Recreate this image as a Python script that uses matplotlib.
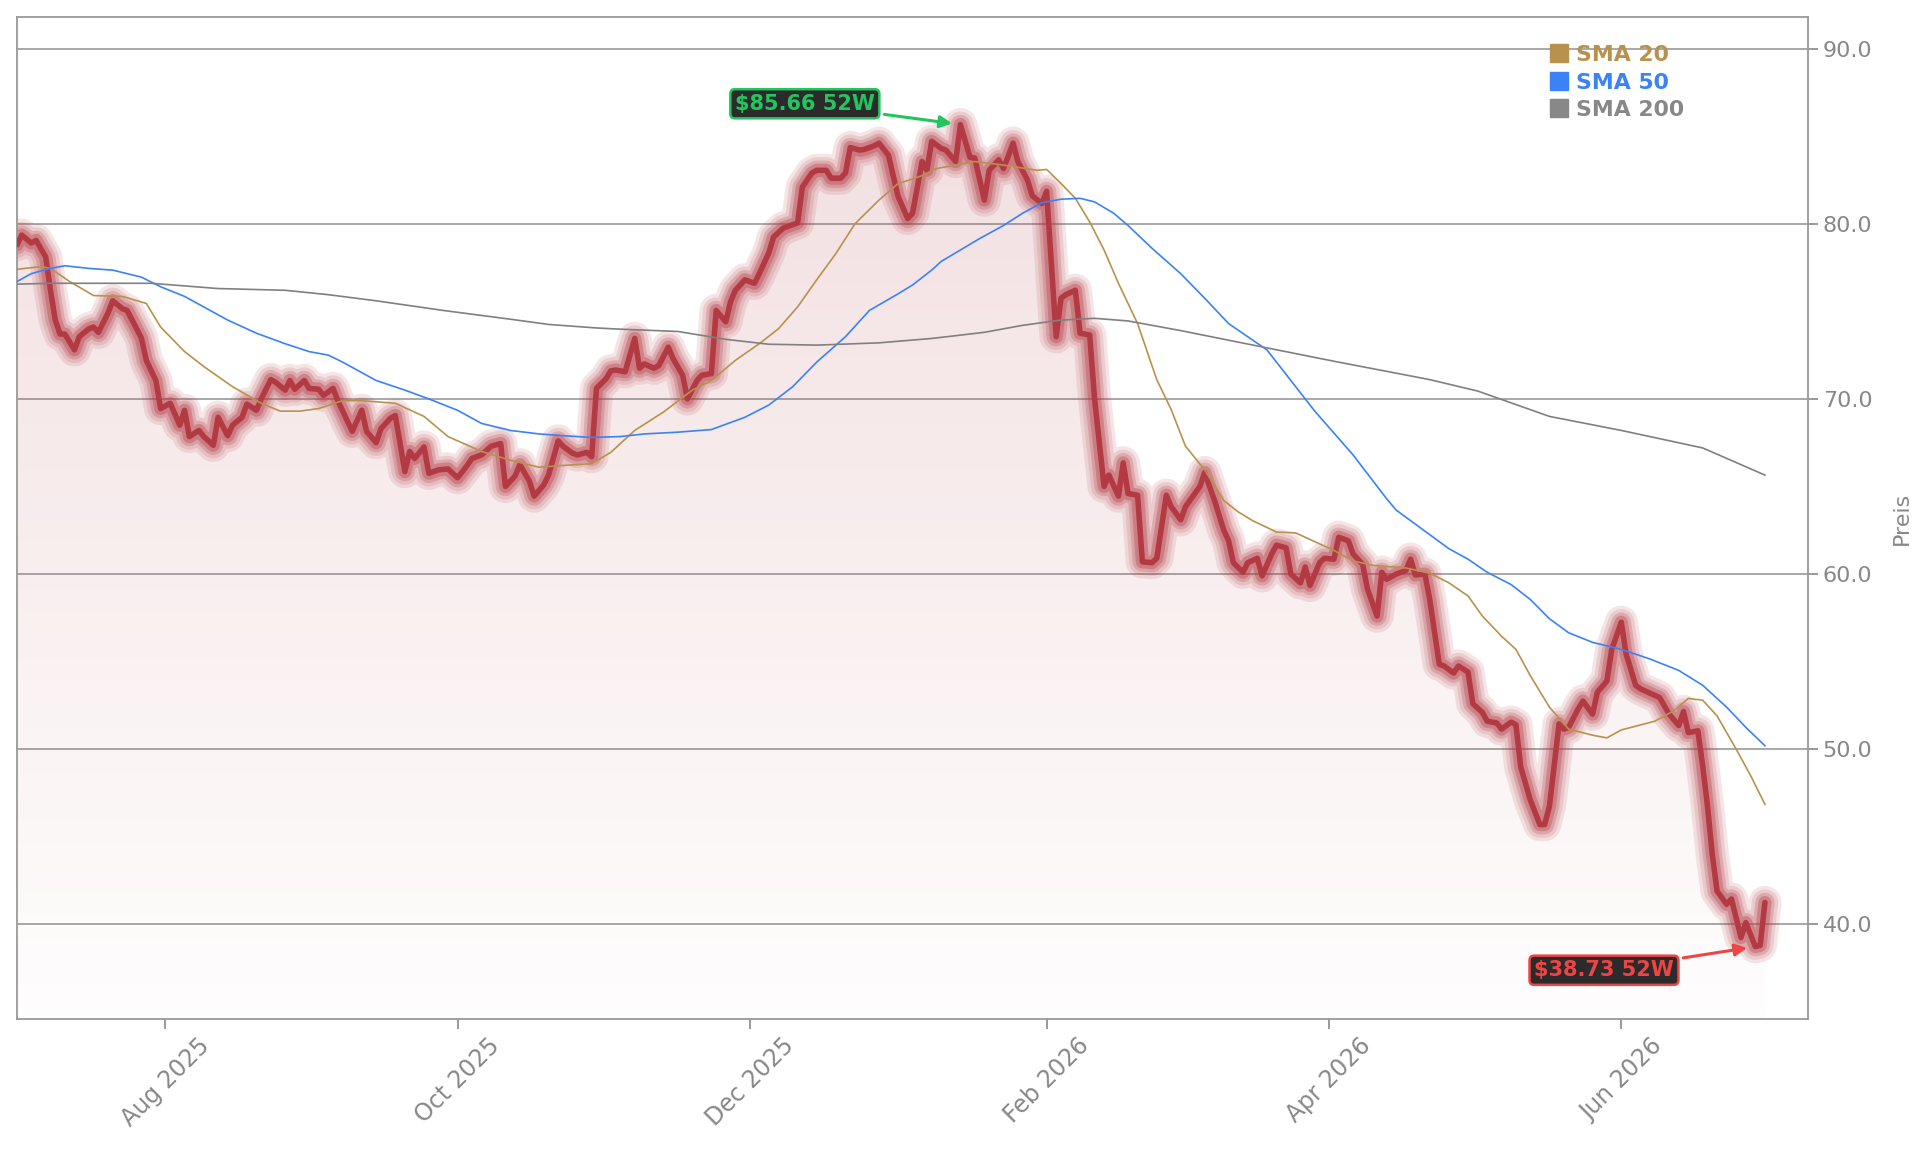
import numpy as np
import pandas as pd
import matplotlib
matplotlib.use("Agg")
import matplotlib.pyplot as plt
import matplotlib.dates as mdates
import matplotlib.colors as mcolors
from matplotlib.patches import Polygon
from matplotlib.lines import Line2D
from matplotlib.ticker import FormatStrFormatter

# --- data ----------------------------------------------------------------
start = pd.Timestamp("2025-07-01")

price_days = [
    0, 1, 3, 4, 6, 7, 8, 9, 10, 12, 13, 15, 16, 17, 19, 20, 22, 23, 25, 26,
    27, 29, 30, 32, 34, 35, 36, 38, 39, 41, 42, 44, 45, 47, 48, 50, 51, 53, 54, 56,
    57, 58, 60, 61, 63, 64, 66, 67, 70, 72, 73, 75, 76, 78, 79, 81, 82, 83, 85, 86,
    88, 90, 92, 94, 95, 97, 99, 101, 102, 104, 105, 107, 108, 110, 111, 113, 114, 116, 117, 119,
    120, 121, 123, 124, 125, 127, 129, 130, 131, 133, 134, 136, 137, 139, 140, 142, 143, 145, 146, 148,
    149, 150, 152, 154, 155, 157, 158, 160, 161, 163, 164, 166, 167, 169, 170, 172, 173, 174, 176, 177,
    179, 180, 182, 183, 184, 186, 187, 189, 190, 191, 193, 194, 196, 197, 199, 200, 202, 203, 205, 206,
    208, 209, 211, 212, 214, 215, 217, 218, 219, 221, 222, 224, 225, 227, 228, 230, 231, 232, 234, 235,
    237, 238, 240, 241, 243, 244, 247, 248, 250, 252, 253, 254, 256, 257, 259, 260, 262, 263, 265, 266,
    268, 269, 270, 272, 273, 275, 276, 278, 279, 281, 282, 284, 285, 286, 288, 290, 291, 292, 294, 295,
    297, 298, 300, 301, 303, 304, 306, 307, 309, 310, 312, 313, 314, 316, 318, 319, 320, 322, 323, 324,
    326, 327, 329, 330, 332, 333, 335, 336, 338, 339, 341, 343, 345, 347, 348, 349, 351, 352, 353, 354,
    355, 357, 358, 360, 361, 363, 364, 365,
]
price = [
    78.8, 79.35, 78.9, 79.05, 78.1, 76.2, 74.5, 73.7, 73.7, 72.8, 73.55, 74.0, 74.1, 73.8, 74.9, 75.6, 75.15, 75.05, 74.0, 73.45,
    72.2, 71.05, 69.45, 69.75, 68.5, 69.35, 67.85, 68.2, 67.85, 67.35, 68.95, 67.9, 68.5, 68.95, 69.7, 69.35, 70.0, 71.1, 70.95, 70.5,
    71.05, 70.55, 71.05, 70.6, 70.55, 70.2, 70.6, 69.9, 68.15, 69.35, 68.15, 67.5, 68.3, 68.9, 69.05, 65.85, 67.0, 66.6, 67.25, 65.75,
    65.95, 66.0, 65.5, 66.2, 66.6, 66.8, 67.3, 67.45, 65.0, 65.6, 66.25, 65.3, 64.45, 65.1, 65.65, 67.6, 67.3, 66.9, 66.8, 66.95,
    66.7, 70.6, 71.15, 71.6, 71.65, 71.55, 73.45, 71.75, 72.0, 71.75, 71.9, 72.95, 72.3, 71.35, 70.0, 71.05, 71.35, 71.45, 75.05, 74.4,
    75.55, 76.2, 76.8, 76.6, 77.15, 78.35, 79.25, 79.75, 79.85, 80.05, 82.1, 82.9, 83.05, 83.05, 82.6, 82.6, 82.9, 84.35, 84.2, 84.25,
    84.45, 84.6, 83.9, 82.7, 81.55, 80.3, 80.6, 83.55, 83.05, 84.7, 84.3, 84.2, 83.55, 85.66, 83.8, 83.75, 81.35, 83.05, 83.65, 83.15,
    84.6, 83.55, 82.5, 81.6, 81.15, 81.85, 73.55, 75.75, 75.95, 76.2, 73.75, 73.65, 70.05, 65.0, 65.65, 64.45, 66.35, 64.6, 64.5, 60.7,
    60.65, 60.9, 64.5, 63.85, 63.1, 63.85, 65.0, 65.8, 64.25, 62.5, 61.9, 60.65, 60.1, 60.65, 60.9, 59.9, 61.15, 61.65, 61.5, 60.0,
    59.5, 60.4, 59.35, 60.65, 60.9, 60.85, 62.1, 61.9, 61.15, 60.55, 59.15, 57.6, 60.1, 59.7, 60.0, 60.2, 60.85, 59.95, 60.0, 58.55,
    54.85, 54.75, 54.35, 54.75, 54.4, 52.6, 52.1, 51.6, 51.5, 51.15, 51.55, 51.4, 49.0, 47.1, 45.7, 45.7, 46.75, 51.45, 51.15, 51.25,
    52.3, 52.75, 52.0, 53.25, 53.9, 55.7, 57.25, 55.45, 53.65, 53.45, 53.2, 52.95, 52.0, 51.35, 52.15, 50.95, 51.05, 49.05, 46.75, 44.0,
    41.9, 41.15, 41.45, 39.25, 40.1, 38.73, 38.8, 41.25,
]

sma20_days = [0, 5, 7, 11, 16, 22, 27, 30, 35, 39, 45, 51, 55, 59, 63, 68, 72, 79, 85, 90,
              97, 103, 109, 114, 120, 124, 129, 135, 141, 145, 150, 155, 159, 163, 167, 171, 175, 180, 184, 187,
              189, 192, 200, 206, 213, 215, 218, 221, 224, 227, 230, 234, 238, 241, 244, 248, 252, 255, 258, 263,
              267, 271, 275, 279, 283, 290, 295, 299, 303, 306, 310, 313, 316, 320, 324, 329, 332, 335, 342, 346,
              349, 352, 355, 359, 362, 365]
sma20 = [77.4, 77.55, 77.45, 76.7, 75.9, 75.85, 75.45, 74.1, 72.7, 71.85, 70.7, 69.75, 69.3, 69.3, 69.45, 69.9, 69.9, 69.75, 69.0, 67.85,
         67.0, 66.5, 66.1, 66.2, 66.3, 66.95, 68.2, 69.25, 70.5, 71.05, 72.2, 73.15, 74.0, 75.25, 76.8, 78.3, 80.0, 81.35, 82.3, 82.55,
         82.75, 83.15, 83.55, 83.35, 83.05, 83.1, 82.3, 81.45, 80.1, 78.5, 76.6, 74.3, 71.1, 69.4, 67.3, 65.95, 64.2, 63.55, 63.05, 62.4,
         62.35, 61.85, 61.35, 60.75, 60.5, 60.35, 60.05, 59.5, 58.75, 57.6, 56.45, 55.7, 54.2, 52.4, 51.15, 50.8, 50.65, 51.1, 51.6, 52.2,
         52.9, 52.8, 51.9, 50.0, 48.5, 46.85]

sma50_days = [0, 3, 7, 10, 15, 20, 26, 30, 35, 39, 44, 50, 56, 61, 65, 68, 75, 81, 86, 92,
              97, 103, 109, 114, 120, 126, 131, 138, 145, 152, 157, 162, 167, 173, 178, 184, 187, 191, 193, 197,
              201, 206, 210, 214, 218, 222, 225, 229, 232, 237, 243, 248, 253, 261, 271, 279, 286, 288, 293, 299,
              303, 307, 312, 316, 320, 324, 329, 335, 341, 347, 352, 357, 361, 365]
sma50 = [76.7, 77.15, 77.45, 77.6, 77.45, 77.35, 76.95, 76.4, 75.85, 75.25, 74.5, 73.75, 73.15, 72.7, 72.5, 72.1, 71.05, 70.5, 70.0, 69.35,
         68.6, 68.2, 68.0, 67.9, 67.8, 67.85, 68.0, 68.1, 68.25, 68.95, 69.65, 70.7, 72.1, 73.55, 75.05, 76.0, 76.5, 77.35, 77.85, 78.5,
         79.15, 79.9, 80.6, 81.2, 81.4, 81.45, 81.25, 80.6, 79.9, 78.6, 77.15, 75.75, 74.3, 72.8, 69.3, 66.8, 64.3, 63.65, 62.65, 61.45,
         60.85, 60.1, 59.4, 58.55, 57.45, 56.65, 56.1, 55.7, 55.15, 54.5, 53.65, 52.4, 51.25, 50.2]

sma200_days = [0, 7, 28, 35, 42, 56, 65, 75, 89, 103, 111, 121, 126, 138, 148, 157, 167, 180, 191, 202,
               210, 218, 225, 232, 243, 253, 264, 275, 295, 305, 320, 335, 352, 365]
sma200 = [76.55, 76.6, 76.6, 76.45, 76.3, 76.2, 75.95, 75.6, 75.05, 74.55, 74.25, 74.05, 73.98, 73.85, 73.4, 73.12, 73.07, 73.2, 73.45, 73.8,
          74.2, 74.5, 74.6, 74.45, 73.9, 73.35, 72.75, 72.15, 71.1, 70.45, 69.0, 68.2, 67.2, 65.65]

ma_labels = ["SMA 20", "SMA 50", "SMA 200"]
ma_colors = ["#b8924c", "#3b82f6", "#888888"]
high_label = "$85.66 52W"
low_label = "$38.73 52W"


def to_dates(days):
    return start + pd.to_timedelta(days, unit="D")


d_price = to_dates(price_days)
price = np.array(price)

# --- figure ---------------------------------------------------------------
fig = plt.figure(figsize=(19.29, 11.51), dpi=100)
ax = fig.add_axes([0.0088, 0.1147, 0.9285, 0.8705])

y_lo, y_hi = 34.6, 91.8
x_lo, x_hi = start, start + pd.Timedelta(days=374)

red = "#b33a42"

# gradient fill under the price line
xn = mdates.date2num(d_price)
verts = np.vstack([np.column_stack([xn, price]), [[xn[-1], y_lo], [xn[0], y_lo]]])
poly = Polygon(verts, closed=True, facecolor="none", edgecolor="none")
ax.add_patch(poly)
grad = np.zeros((256, 1, 4))
grad[..., :3] = mcolors.to_rgb(red)
grad[..., 3] = np.linspace(0.16, 0.01, 256)[:, None]
ax.plot(d_price, price, alpha=0)  # set date units
im = ax.imshow(grad, aspect="auto", origin="upper",
               extent=[xn[0], xn[-1], y_lo, price.max()], zorder=1)
im.set_clip_path(poly)

# glow + price line
for lw, a in [(24, 0.13), (19, 0.14), (14, 0.23), (9.5, 0.34)]:
    ax.plot(d_price, price, color=red, lw=lw, alpha=a, zorder=2,
            solid_joinstyle="round", solid_capstyle="round")
ax.plot(d_price, price, color=red, lw=4, zorder=3,
        solid_joinstyle="round", solid_capstyle="round")

# moving averages
ax.plot(to_dates(sma20_days), sma20, color=ma_colors[0], lw=1.2, zorder=4)
ax.plot(to_dates(sma50_days), sma50, color=ma_colors[1], lw=1.2, zorder=4)
ax.plot(to_dates(sma200_days), sma200, color="#808080", lw=1.2, zorder=4)

# 52-week high / low
i_hi = int(np.argmax(price))
i_lo = int(np.argmin(price))
ax.annotate(high_label, xy=(d_price[i_hi], price[i_hi]), xytext=(-112, 15),
            textcoords="offset points", ha="center", va="center",
            fontsize=15, fontweight="bold", color="#22c55e", zorder=6,
            bbox=dict(boxstyle="round,pad=0.22", fc="#2b2b2b", ec="#22c55e", lw=1.8),
            arrowprops=dict(arrowstyle="-|>", color="#22c55e", lw=2.2,
                            mutation_scale=18, shrinkA=3, shrinkB=6))
ax.annotate(low_label, xy=(d_price[i_lo], price[i_lo]), xytext=(-109, -17),
            textcoords="offset points", ha="center", va="center",
            fontsize=15, fontweight="bold", color="#ef4444", zorder=6,
            bbox=dict(boxstyle="round,pad=0.22", fc="#2b2b2b", ec="#ef4444", lw=1.8),
            arrowprops=dict(arrowstyle="-|>", color="#ef4444", lw=2.2,
                            mutation_scale=18, shrinkA=3, shrinkB=6))

# legend
handles = [Line2D([], [], marker="s", ls="none", color=c, markersize=13) for c in ma_colors]
leg = ax.legend(handles, ma_labels, loc="upper left", bbox_to_anchor=(0.8485, 0.983),
                frameon=False, borderpad=0, handletextpad=0.3, handlelength=1.0,
                labelspacing=0.34, prop=dict(size=15.8, weight="bold"))
for txt, c in zip(leg.get_texts(), ma_colors):
    txt.set_color(c)

# axes styling
ax.set_xlim(x_lo, x_hi)
ax.set_ylim(y_lo, y_hi)
ax.set_yticks([40, 50, 60, 70, 80, 90])
ax.yaxis.set_major_formatter(FormatStrFormatter("%.1f"))
ax.yaxis.tick_right()
ax.yaxis.set_label_position("right")
ax.set_ylabel("Preis", color="#888888", fontsize=16, labelpad=14)
ax.grid(axis="y", color="#999999", lw=1.2)
ax.set_axisbelow(True)

ax.xaxis.set_major_locator(mdates.MonthLocator(bymonth=[2, 4, 6, 8, 10, 12]))
ax.xaxis.set_major_formatter(mdates.DateFormatter("%b %Y"))
ax.tick_params(axis="x", colors="#888888", labelsize=17, length=7, width=1.2, rotation=45)
ax.tick_params(axis="y", colors="#888888", labelsize=16, length=7, width=1.2)
for s in ax.spines.values():
    s.set_color("#999999")
    s.set_linewidth(1.3)

fig.savefig("out.png", dpi=100, facecolor="white")
